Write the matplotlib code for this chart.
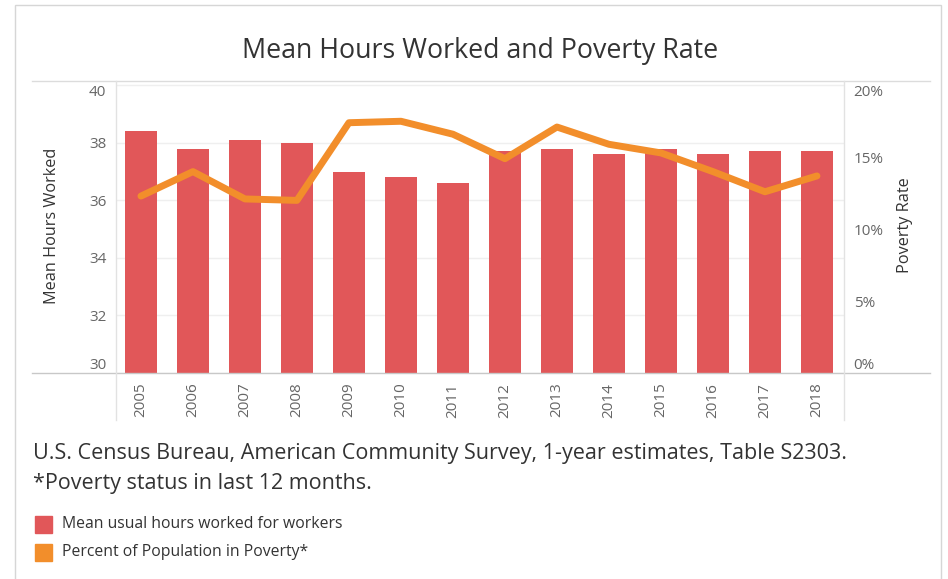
import matplotlib
matplotlib.use("Agg")
import matplotlib.pyplot as plt
from matplotlib.lines import Line2D
from matplotlib.patches import Rectangle
from matplotlib.ticker import FuncFormatter

years = [str(y) for y in range(2005, 2019)]
mean_hours = [38.4, 37.8, 38.1, 38.0, 37.0, 36.8, 36.6, 37.7, 37.8, 37.6, 37.8, 37.6, 37.7, 37.7]
poverty_pct = [12.3, 14.0, 12.1, 12.0, 17.4, 17.5, 16.6, 14.9, 17.1, 15.9, 15.3, 14.0, 12.6, 13.7]
hours_ticks = [30, 32, 34, 36, 38, 40]
pct_ticks = [0, 5, 10, 15, 20]

BAR_COLOR = "#E15759"
LINE_COLOR = "#F28E2B"
TEXT = "#333333"
TICK = "#666666"

plt.rcParams['font.family'] = ['Open Sans', 'DejaVu Sans']

W, H = 948, 579


def fx(px):
    return px / W


def fy(py):
    return 1 - py / H


fig = plt.figure(figsize=(W / 100, H / 100), dpi=100)

# outer frame
fig.add_artist(Rectangle((fx(15), -0.02), fx(941) - fx(15), fy(5) + 0.02,
                         fill=False, ec="#d6d6d6", lw=1, transform=fig.transFigure))

ax = fig.add_axes([fx(116), fy(373), fx(844) - fx(116), fy(81) - fy(373)])
xs = list(range(len(years)))
ax.bar(xs, mean_hours, width=0.6, color=BAR_COLOR, zorder=2)
ax.set_xlim(-0.48, len(years) - 0.48)
ax.set_ylim(30, 40.15)
ax.set_yticks(hours_ticks)
ax.grid(axis='y', color='#efefef', lw=1, zorder=0)
ax.set_xticks(xs, years, rotation=90)
ax.tick_params(axis='x', length=0, pad=7, labelsize=11, labelcolor=TICK)
ax.tick_params(axis='y', length=0, pad=7, labelsize=11, labelcolor=TICK)
for s in ax.spines.values():
    s.set_visible(False)
ylabs = ax.get_yticklabels()
ylabs[0].set_va('bottom')
ylabs[-1].set_va('top')

ax2 = ax.twinx()
ax2.plot(xs, poverty_pct, color=LINE_COLOR, lw=5, solid_joinstyle='round',
         solid_capstyle='round', zorder=3)
ax2.set_ylim(0, 20.3)
ax2.set_yticks(pct_ticks)
ax2.yaxis.set_major_formatter(FuncFormatter(lambda v, p: f'{v:.0f}%'))
ax2.tick_params(axis='y', length=0, pad=7, labelsize=11, labelcolor=TICK)
for s in ax2.spines.values():
    s.set_visible(False)
plabs = ax2.get_yticklabels()
plabs[0].set_va('bottom')
plabs[-1].set_va('top')

# tableau-like frame lines
fig.add_artist(Line2D([fx(32), fx(930)], [fy(81), fy(81)], color='#dcdcdc', lw=1))
fig.add_artist(Line2D([fx(32), fx(930)], [fy(373), fy(373)], color='#c8c8c8', lw=1))
for px in (116, 844):
    fig.add_artist(Line2D([fx(px), fx(px)], [fy(81), fy(420)], color='#e2e2e2', lw=1))

fig.text(fx(480), fy(51), 'Mean Hours Worked and Poverty Rate', ha='center', va='center',
         fontsize=19.3, color=TEXT)
fig.text(fx(52), fy(226), 'Mean Hours Worked', rotation=90, ha='center', va='center',
         fontsize=11.7, color=TEXT)
fig.text(fx(905), fy(225), 'Poverty Rate', rotation=90, ha='center', va='center',
         fontsize=11.7, color=TEXT)

fig.text(fx(33), fy(454), 'U.S. Census Bureau, American Community Survey, 1-year estimates, Table S2303.',
         ha='left', va='center', fontsize=15.5, color=TEXT)
fig.text(fx(33), fy(483), '*Poverty status in last 12 months.',
         ha='left', va='center', fontsize=15.5, color=TEXT)

# legend
legend_items = [('Mean usual hours worked for workers', BAR_COLOR, 516),
                ('Percent of Population in Poverty*', LINE_COLOR, 544)]
for label, color, top in legend_items:
    fig.add_artist(Rectangle((fx(35), fy(top + 17)), fx(17), 17 / H, color=color,
                             transform=fig.transFigure))
    fig.text(fx(62), fy(top + 8.5), label, ha='left', va='center', fontsize=11.3, color=TEXT)

fig.savefig('out.png', dpi=100)
